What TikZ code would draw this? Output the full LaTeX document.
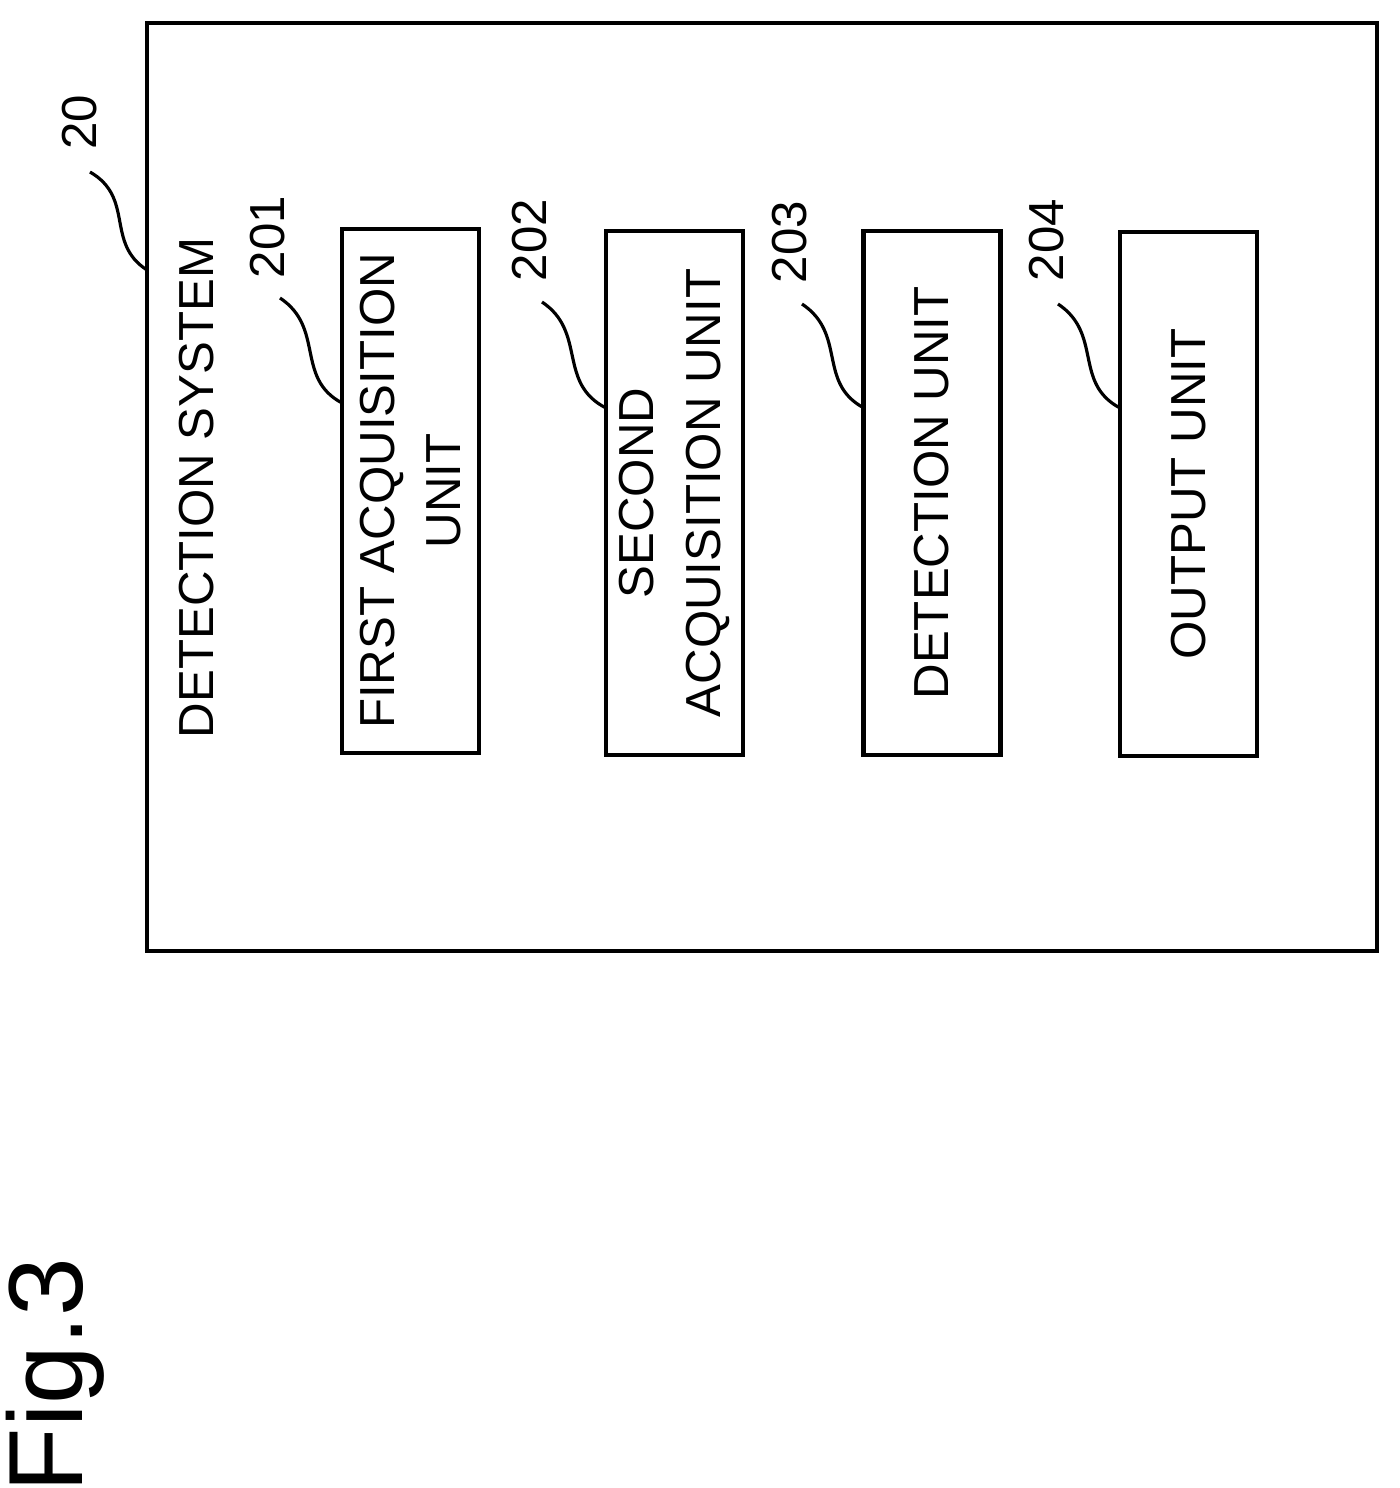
\documentclass[tikz,border=0pt]{standalone}
\usepackage{fontspec}
\setmainfont{Liberation Sans}
\usetikzlibrary{positioning,calc}

\tikzset{
  unit/.style={draw,line width=1.3pt,rotate=90,minimum width=5.24cm,minimum height=1.37cm,
    align=center,font=\fontsize{14}{19}\selectfont,inner sep=0pt},
  refnum/.style={rotate=90,font=\fontsize{14}{17}\selectfont,inner sep=1pt},
  leader/.style={line width=0.9pt}
}

\begin{document}
\begin{tikzpicture}
  \useasboundingbox (0,0) rectangle (14,14.88);
  % outer system box
  \draw[line width=1.3pt] (1.47,14.65) rectangle (13.77,5.37);
  \node[rotate=90,font=\fontsize{14}{17}\selectfont] (sys) at (1.97,10.00) {DETECTION SYSTEM};

  \node[unit] (u1) at (4.105,9.97) {FIRST ACQUISITION\\UNIT};
  \node[unit] (u2) at (6.745,9.95) {SECOND\\ACQUISITION UNIT};
  \node[unit] (u3) at (9.32,9.95) {DETECTION UNIT};
  \node[unit] (u4) at (11.885,9.94) {OUTPUT UNIT};

  % reference numerals
  \node[refnum] (n20) at (0.80,13.66) {20};
  \node[refnum] (n1) at (2.68,12.51) {201};
  \node[refnum] (n2) at (5.30,12.48) {202};
  \node[refnum] (n3) at (7.90,12.46) {203};
  \node[refnum] (n4) at (10.47,12.48) {204};

  \coordinate (t0) at (1.47,12.18);
  \coordinate (t1) at (3.42,10.85);
  \coordinate (t2) at (6.06,10.80);
  \coordinate (t3) at (8.64,10.80);
  \coordinate (t4) at (11.20,10.80);

  \draw[leader] (0.90,13.16) .. controls (1.35,12.90) and (1.05,12.45) .. (t0);
  \draw[leader] (2.80,11.90) .. controls (3.25,11.60) and (2.95,11.10) .. (t1);
  \draw[leader] (5.42,11.86) .. controls (5.87,11.56) and (5.57,11.05) .. (t2);
  \draw[leader] (8.02,11.84) .. controls (8.47,11.54) and (8.17,11.05) .. (t3);
  \draw[leader] (10.58,11.84) .. controls (11.03,11.54) and (10.73,11.05) .. (t4);

  \node[rotate=90,font=\fontsize{30}{36}\selectfont] (fig) at (0.55,1.13) {Fig.3};
\end{tikzpicture}
\end{document}
